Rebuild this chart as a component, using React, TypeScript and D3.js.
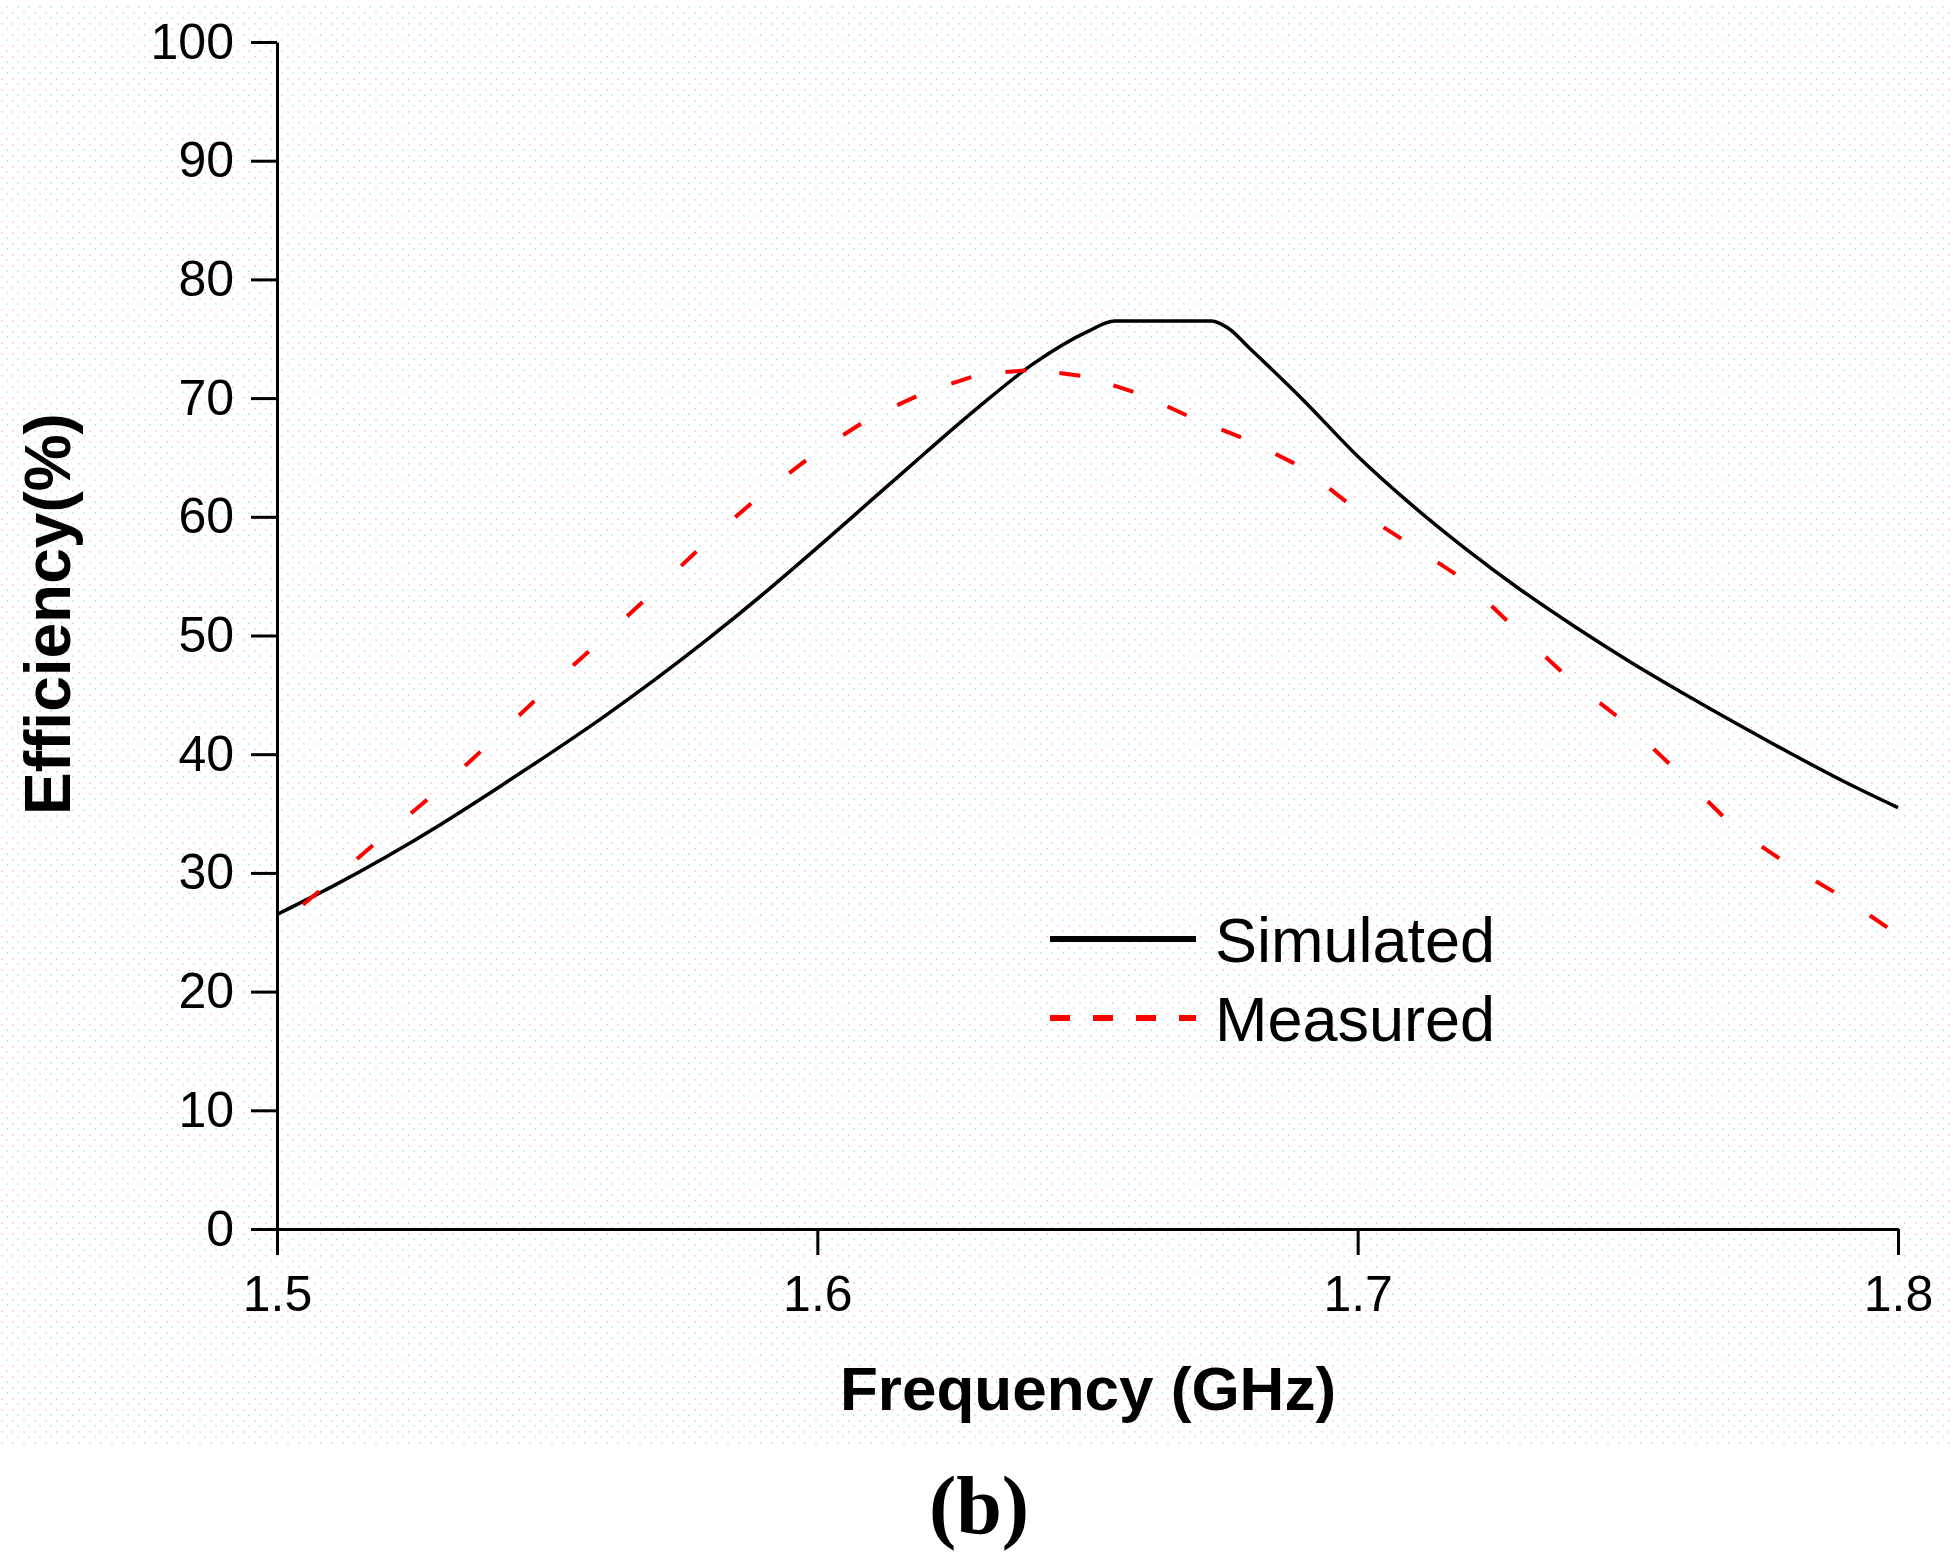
import React, { FC, useEffect, useRef, useMemo } from 'react'
import * as d3 from 'd3'

// simulated efficiency (black solid)
const simFreq = [1.5, 1.51, 1.52, 1.53, 1.54, 1.55, 1.56, 1.57, 1.58, 1.59, 1.6, 1.61, 1.62, 1.63, 1.64, 1.65, 1.655, 1.673, 1.676, 1.68, 1.69, 1.7, 1.71, 1.72, 1.73, 1.74, 1.75, 1.76, 1.77, 1.78, 1.79, 1.8]
const simEff = [26.5, 28.8, 31.3, 34.0, 36.9, 39.9, 43.0, 46.3, 49.8, 53.5, 57.4, 61.4, 65.4, 69.3, 72.9, 75.6, 76.5, 76.5, 75.9, 74.2, 69.8, 65.1, 61.0, 57.3, 53.9, 50.8, 47.9, 45.2, 42.6, 40.1, 37.7, 35.5]

// measured efficiency (red dashed)
const measFreq = [1.5, 1.51, 1.52, 1.53, 1.54, 1.55, 1.56, 1.57, 1.58, 1.59, 1.6, 1.61, 1.62, 1.63, 1.64, 1.65, 1.66, 1.67, 1.68, 1.69, 1.7, 1.71, 1.72, 1.73, 1.74, 1.75, 1.76, 1.77, 1.78, 1.79, 1.8]
const measEff = [25.5, 29.3, 33.2, 37.0, 41.2, 45.5, 49.6, 53.8, 58.1, 62.0, 65.5, 68.4, 70.5, 72.0, 72.4, 71.8, 70.3, 68.2, 66.4, 64.1, 60.5, 57.6, 54.6, 50.2, 46.0, 42.5, 38.2, 33.7, 30.6, 27.9, 24.8]

const xTicks = [1.5, 1.6, 1.7, 1.8]
const yTicks = [0, 10, 20, 30, 40, 50, 60, 70, 80, 90, 100]
const seriesNames = ['Simulated', 'Measured']

const W = 1953
const H = 1568
const sans = '"Liberation Sans", Arial, sans-serif'

const App: FC = () => {
	const xAxis = useRef<SVGGElement>(null)
	const yAxis = useRef<SVGGElement>(null)

	const x = useMemo(() => d3.scaleLinear().domain([1.5, 1.8]).range([277, 1898]), [])
	const y = useMemo(() => d3.scaleLinear().domain([0, 100]).range([1229, 42]), [])

	const simPath = useMemo(() => {
		const line = d3
			.line<number>()
			.x((_, i) => x(simFreq[i]))
			.y(d => y(d))
			.curve(d3.curveMonotoneX)
		return line(simEff) || ''
	}, [])

	useEffect(() => {
		if (xAxis.current) {
			const ax = d3
				.axisBottom(x)
				.tickValues(xTicks)
				.tickFormat(d3.format('.1f') as any)
				.tickSize(26)
				.tickSizeOuter(0)
				.tickPadding(20)
			const g = d3.select(xAxis.current).call(ax)
			g.selectAll('line, path').attr('stroke-width', 3)
		}
		if (yAxis.current) {
			const ax = d3
				.axisLeft(y)
				.tickValues(yTicks)
				.tickSize(26)
				.tickSizeOuter(0)
				.tickPadding(17)
			const g = d3.select(yAxis.current).call(ax)
			g.selectAll('line, path').attr('stroke-width', 3)
		}
	}, [])

	// Origin-style dashes: one dash per data segment
	const segs = measEff.slice(0, -1).map((d, i) => {
		const x1 = x(measFreq[i])
		const y1 = y(d)
		const x2 = x(measFreq[i + 1])
		const y2 = y(measEff[i + 1])
		const L = Math.hypot(x2 - x1, y2 - y1)
		return { x1, y1, x2, y2, L }
	})

	return (
		<svg
			width={W}
			height={H}
			style={{ position: 'absolute', left: 0, top: 0, background: '#fff' }}
		>
			<defs>
				<pattern id="dots" width="11" height="11" patternUnits="userSpaceOnUse">
					<rect x="1" y="1" width="2" height="2" fill="#fcdcd2" />
					<rect x="6" y="6" width="2" height="2" fill="#cdeffa" />
				</pattern>
			</defs>
			<rect x={0} y={4} width={W} height={1441} fill="url(#dots)" />

			{/* curves */}
			<path d={simPath} fill="none" stroke="#000" strokeWidth={3.5} />
			<g>
				{segs.map((s, i) => (
					<line
						key={i}
						x1={s.x1}
						y1={s.y1}
						x2={s.x2}
						y2={s.y2}
						stroke="#ff0000"
						strokeWidth={4}
						strokeDasharray={`0 ${s.L * 0.48} 21 ${s.L}`}
					/>
				))}
			</g>

			<g
				ref={xAxis}
				transform={`translate(0, ${y(0)})`}
				style={{ fontFamily: sans, fontSize: 50, color: '#000' }}
			/>
			<g
				ref={yAxis}
				transform={`translate(${x(1.5)}, 0)`}
				style={{ fontFamily: sans, fontSize: 50, color: '#000' }}
			/>

			{/* axis titles */}
			<text
				transform="translate(70, 614) rotate(-90)"
				textAnchor="middle"
				fontFamily={sans}
				fontWeight="bold"
				fontSize={64}
			>
				Efficiency(%)
			</text>
			<text
				x={1088}
				y={1410}
				textAnchor="middle"
				fontFamily={sans}
				fontWeight="bold"
				fontSize={62}
			>
				Frequency (GHz)
			</text>

			{/* legend */}
			<line x1={1050} x2={1196} y1={939} y2={939} stroke="#000" strokeWidth={6} />
			<line
				x1={1050}
				x2={1196}
				y1={1018}
				y2={1018}
				stroke="#ff0000"
				strokeWidth={6}
				strokeDasharray="20 23"
			/>
			<text x={1215} y={962} fontFamily={sans} fontSize={63}>
				{seriesNames[0]}
			</text>
			<text x={1215} y={1041} fontFamily={sans} fontSize={63}>
				{seriesNames[1]}
			</text>

			<text
				x={979}
				y={1533}
				textAnchor="middle"
				fontFamily='"Liberation Serif", "Times New Roman", serif'
				fontWeight="bold"
				fontSize={82}
			>
				(b)
			</text>
		</svg>
	)
}

export default App
